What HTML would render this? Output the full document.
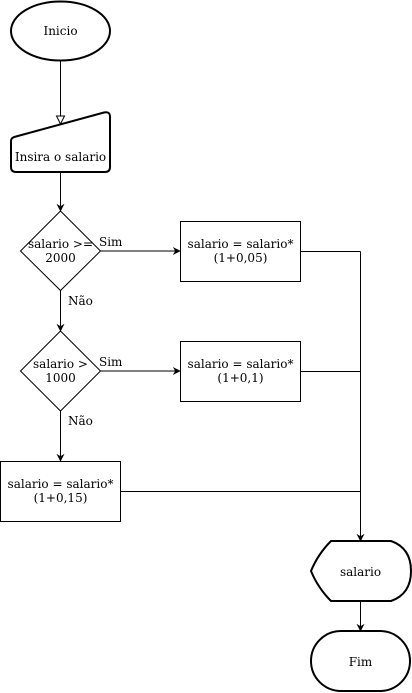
<!DOCTYPE html>
<html><head><style>body{margin:0;background:#fff}svg{display:block}text{font-family:"DejaVu Serif","Liberation Serif",serif;font-size:12px;fill:#000}</style></head><body>
<svg width="412" height="693" viewBox="0 0 412 693" xmlns="http://www.w3.org/2000/svg">
<defs>
<marker id="a" viewBox="0 0 10 10" refX="9" refY="5" markerWidth="8" markerHeight="8" orient="auto" markerUnits="userSpaceOnUse"><path d="M0,0 L10,5 L0,10 L3,5 Z" fill="#000"/></marker>
</defs>
<g fill="none" stroke="#000">
<ellipse cx="60.5" cy="31" rx="49.5" ry="29.5" stroke-width="2" fill="#fff"/>
<line x1="60.5" y1="61" x2="60.5" y2="116"/>
<path d="M56.5,116 L64.5,116 L60.5,124 Z" fill="#fff"/>
<path d="M16,136.5 L104,112.5 Q110,111 110,117 L110,167 Q110,172 105,172 L16,172 Q11,172 11,167 L11,141 Q11,137.5 16,136.5 Z" stroke-width="2" fill="#fff"/>
<line x1="60.5" y1="172" x2="60.5" y2="211" marker-end="url(#a)"/>
<path d="M60.5,211 L100.5,251 L60.5,290.5 L20.5,251 Z" fill="#fff"/>
<line x1="100.5" y1="251" x2="180" y2="251" marker-end="url(#a)"/>
<rect x="180.5" y="221.5" width="120" height="60" fill="#fff"/>
<line x1="60.5" y1="290.5" x2="60.5" y2="331" marker-end="url(#a)"/>
<path d="M60.5,331 L100.5,371 L60.5,411 L20.5,371 Z" fill="#fff"/>
<line x1="100.5" y1="371" x2="180" y2="371" marker-end="url(#a)"/>
<rect x="180.5" y="341.5" width="120" height="60" fill="#fff"/>
<line x1="60.5" y1="411" x2="60.5" y2="461" marker-end="url(#a)"/>
<rect x="0.5" y="461.5" width="120" height="60" fill="#fff"/>
<line x1="300.5" y1="251.5" x2="360.5" y2="251.5"/>
<line x1="300.5" y1="371.5" x2="360.5" y2="371.5"/>
<line x1="120.5" y1="491.5" x2="360.5" y2="491.5"/>
<line x1="360.5" y1="251.5" x2="360.5" y2="541" marker-end="url(#a)"/>
<path d="M331,541 L391,541 Q411,548 411,571 Q411,594 391,601 L331,601 Q318,588 311,571 Q318,554 331,541 Z" stroke-width="2" fill="#fff"/>
<line x1="360.5" y1="601" x2="360.5" y2="631" marker-end="url(#a)"/>
<rect x="311" y="631" width="99" height="60" rx="30" ry="30" stroke-width="2" fill="#fff"/>
</g>
<g text-anchor="middle">
<text x="60.5" y="35">Inicio</text>
<text x="60.5" y="161">Insira o salario</text>
<text x="60.5" y="248">salario &gt;=</text>
<text x="60.5" y="262">2000</text>
<text x="240.5" y="248">salario = salario*</text>
<text x="240.5" y="262">(1+0,05)</text>
<text x="60.5" y="368">salario &gt;</text>
<text x="60.5" y="382">1000</text>
<text x="240.5" y="368">salario = salario*</text>
<text x="240.5" y="382">(1+0,1)</text>
<text x="60.5" y="488">salario = salario*</text>
<text x="60.5" y="502">(1+0,15)</text>
<text x="360.5" y="576">salario</text>
<text x="360.5" y="666">Fim</text>
</g>
<text x="99" y="246">Sim</text>
<text x="99" y="366">Sim</text>
<text x="68" y="305">Não</text>
<text x="68" y="425">Não</text>
</svg>
</body></html>
